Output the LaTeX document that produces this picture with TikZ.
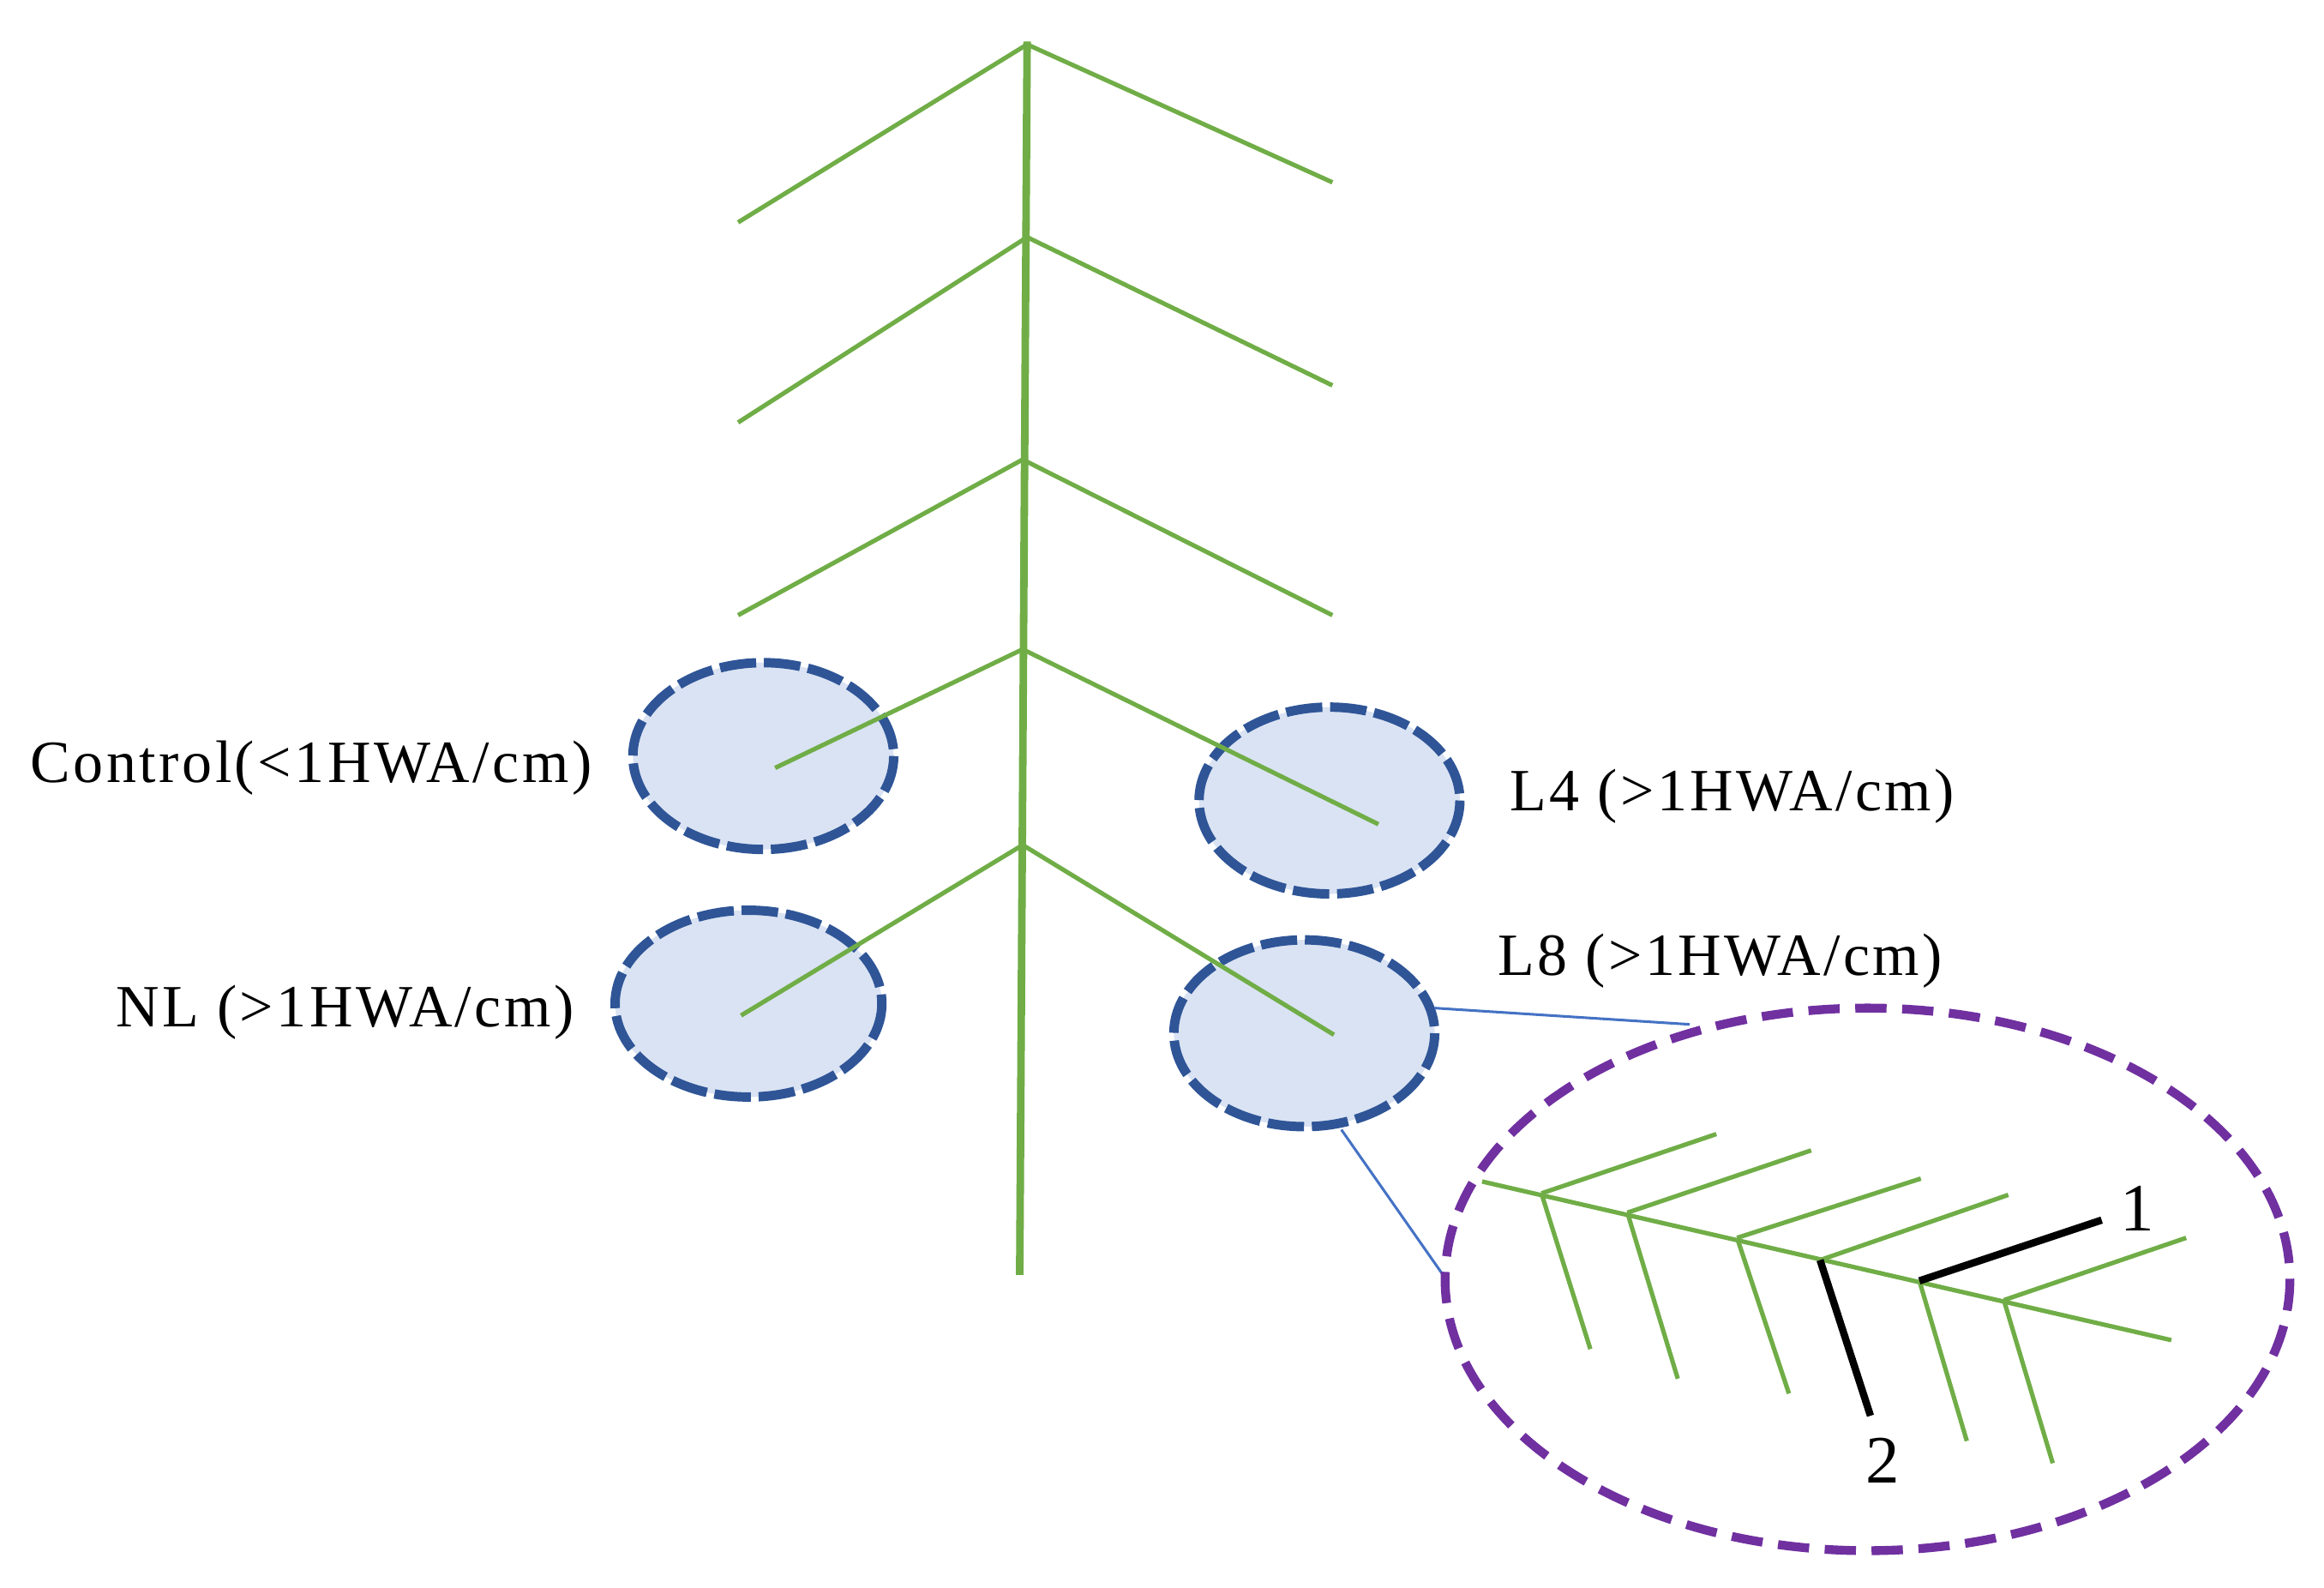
\documentclass[tikz,border=0pt]{standalone}
\usepackage{fontspec}
\setmainfont{Liberation Serif}
\begin{document}
\begin{tikzpicture}[x=0.01cm,y=-0.01cm,
 blk/.style={draw=black, line width=1.4pt},
 lbl/.style={font=\fontsize{11.5}{14}\selectfont\addfontfeature{LetterSpace=5}, inner sep=0}]
\definecolor{leafg}{RGB}{112,173,71}
\definecolor{bfill}{RGB}{218,227,243}
\definecolor{bdraw}{RGB}{47,85,151}
\definecolor{purp}{RGB}{112,48,160}
\definecolor{lnk}{RGB}{68,114,196}
\tikzset{el/.style={fill=bfill, draw=bdraw, line width=1.8pt, dash pattern=on 7pt off 1.5pt}}
\useasboundingbox (0,0) rectangle (1568,1071);
% spots
\filldraw[el] (515,510) ellipse [x radius=88, y radius=63];
\filldraw[el] (897,540) ellipse [x radius=88, y radius=63];
\filldraw[el] (505,677) ellipse [x radius=90, y radius=63];
\filldraw[el] (880,697) ellipse [x radius=88, y radius=63];
% stem
\draw[leafg, line width=1.45pt] (693,28) -- (688,860);
\begin{scope}[leafg, line width=0.85pt]
\draw (498,150) -- (693,30) -- (899,123);
\draw (498,285) -- (693,160) -- (899,260);
\draw (498,415) -- (690,310) -- (899,415);
\draw (523,518) -- (690,438) -- (930,556);
\draw (500,685) -- (690,570) -- (900,698);
\end{scope}
% zoom
\draw[lnk, line width=0.5pt] (968,680) -- (1140,691);
\draw[lnk, line width=0.5pt] (905,762) -- (975,862);
\draw[purp, line width=1.7pt, dash pattern=on 6pt off 3pt] (1260,863) ellipse [x radius=285, y radius=183];
\begin{scope}[leafg, line width=0.85pt]
\draw (1000,797) -- (1465,904);
\draw (1040,805) -- (1158,765); \draw (1098,818) -- (1222,776);
\draw (1172,835) -- (1296,795); \draw (1228,850) -- (1355,806);
\draw (1352,877) -- (1475,835);
\draw (1040,805) -- (1073,910); \draw (1098,818) -- (1132,930);
\draw (1172,835) -- (1207,940); \draw (1295,864) -- (1327,972);
\draw (1352,877) -- (1385,987);
\end{scope}
\draw[blk] (1295,864) -- (1418,823);
\draw[blk] (1228,850) -- (1262,955);
\node[font=\fontsize{13}{15}\selectfont] (n1) at (1442,815) {1};
\node[font=\fontsize{13}{15}\selectfont] (n2) at (1270,985) {2};
% labels
\node[lbl, anchor=west] (c) at (20,518) {Control(<1HWA/cm)};
\node[lbl, anchor=west] (l4) at (1018,537) {L4 (>1HWA/cm)};
\node[lbl, anchor=east] (nl) at (388,683) {NL (>1HWA/cm)};
\node[lbl, anchor=west] (l8) at (1010,648) {L8 (>1HWA/cm)};
\end{tikzpicture}
\end{document}
